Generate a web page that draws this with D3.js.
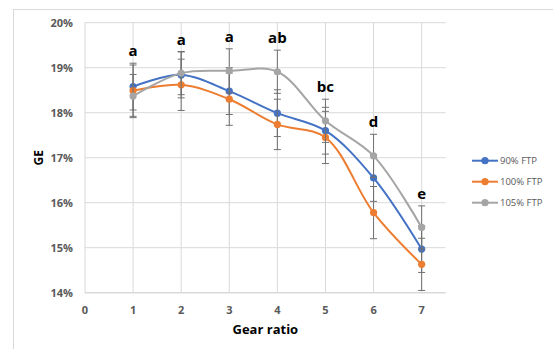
<!DOCTYPE html>
<html>
<head>
<meta charset="utf-8">
<script src="https://cdn.jsdelivr.net/npm/d3@7"></script>
<style>
  body { margin: 0; background: #fff; }
  text { font-family: "Open Sans", "Liberation Sans", sans-serif; }
</style>
</head>
<body>
<script>
var width = 553;
var height = 349;

// data
var gears = [1, 2, 3, 4, 5, 6, 7];
var seriesNames = ["90% FTP", "100% FTP", "105% FTP"];
var ftp90 = [18.58, 18.84, 18.48, 17.99, 17.60, 16.55, 14.97];
var ftp100 = [18.49, 18.62, 18.30, 17.74, 17.45, 15.78, 14.63];
var ftp105 = [18.37, 18.88, 18.93, 18.91, 17.82, 17.04, 15.45];
var err90 = [0.52, 0.51, 0.52, 0.52, 0.52, 0.52, 0.52];
var err100 = [0.57, 0.57, 0.58, 0.56, 0.58, 0.58, 0.58];
var err105 = [0.48, 0.48, 0.49, 0.48, 0.48, 0.48, 0.48];
var letters = ["a", "a", "a", "ab", "bc", "d", "e"];
var xTicks = [0, 1, 2, 3, 4, 5, 6, 7];
var yTicks = [14, 15, 16, 17, 18, 19, 20];

var colors = ["#4472C4", "#ED7D31", "#A5A5A5"];
var values = [ftp90, ftp100, ftp105];
var errors = [err90, err100, err105];

var svg = d3.select("body").append("svg")
  .attr("width", width)
  .attr("height", height);

// outer chart frame
svg.append("rect")
  .attr("x", 13.5).attr("y", 9.5)
  .attr("width", 560).attr("height", 360)
  .attr("fill", "none")
  .attr("stroke", "#d9d9d9");

var x = d3.scaleLinear().domain([0, 7.5]).range([85, 445.7]);
var y = d3.scaleLinear().domain([14, 20]).range([292.7, 22.7]);

// gridlines
svg.append("g").selectAll("line")
  .data(yTicks)
  .join("line")
  .attr("x1", x(0)).attr("x2", x(7.5))
  .attr("y1", d => y(d)).attr("y2", d => y(d))
  .attr("stroke", "#d9d9d9")
  .attr("stroke-width", d => d == 14 ? 1.5 : 1);

svg.append("g").selectAll("line")
  .data(xTicks)
  .join("line")
  .attr("x1", d => x(d)).attr("x2", d => x(d))
  .attr("y1", y(20)).attr("y2", y(14))
  .attr("stroke", "#d9d9d9");

// tick labels
svg.append("g").selectAll("text")
  .data(yTicks)
  .join("text")
  .attr("x", 73)
  .attr("y", d => y(d))
  .attr("dy", "0.35em")
  .attr("text-anchor", "end")
  .attr("font-size", 11)
  .attr("font-weight", "bold")
  .attr("fill", "#595959")
  .text(d => d + "%");

svg.append("g").selectAll("text")
  .data(xTicks)
  .join("text")
  .attr("x", d => x(d))
  .attr("y", 310)
  .attr("dy", "0.35em")
  .attr("text-anchor", "middle")
  .attr("font-size", 11)
  .attr("font-weight", "bold")
  .attr("fill", "#595959")
  .text(d => d);

// axis titles
svg.append("text")
  .attr("x", (x(0) + x(7.5)) / 2)
  .attr("y", 334)
  .attr("text-anchor", "middle")
  .attr("font-size", 13)
  .attr("font-weight", "bold")
  .attr("fill", "#000")
  .text("Gear ratio");

svg.append("text")
  .attr("transform", "translate(43," + (y(17) + 0) + ") rotate(-90)")
  .attr("text-anchor", "middle")
  .attr("font-size", 12)
  .attr("font-weight", "bold")
  .attr("fill", "#000")
  .text("GE");

var line = d3.line()
  .x((d, i) => x(gears[i]))
  .y(d => y(d))
  .curve(d3.curveCatmullRom.alpha(0.5));

values.forEach(function(vals, s) {
  var g = svg.append("g");
  // error bars
  vals.forEach(function(v, i) {
    var e = errors[s][i];
    var cx = x(gears[i]);
    g.append("line")
      .attr("x1", cx).attr("x2", cx)
      .attr("y1", y(v + e)).attr("y2", y(v - e))
      .attr("stroke", "#707070");
    [v + e, v - e].forEach(function(c) {
      g.append("line")
        .attr("x1", cx - 3.5).attr("x2", cx + 3.5)
        .attr("y1", y(c)).attr("y2", y(c))
        .attr("stroke", "#707070");
    });
  });
  g.append("path")
    .attr("d", line(vals))
    .attr("fill", "none")
    .attr("stroke", colors[s])
    .attr("stroke-width", 2);
  g.selectAll("circle")
    .data(vals)
    .join("circle")
    .attr("cx", (d, i) => x(gears[i]))
    .attr("cy", d => y(d))
    .attr("r", 3.6)
    .attr("fill", colors[s]);
});

// significance letters
svg.append("g").selectAll("text")
  .data(letters)
  .join("text")
  .attr("x", (d, i) => x(gears[i]))
  .attr("y", function(d, i) {
    var top = d3.max(values, (vals, s) => vals[i] + errors[s][i]);
    return y(top) - 7;
  })
  .attr("text-anchor", "middle")
  .attr("font-size", 15)
  .attr("font-weight", "bold")
  .attr("fill", "#000")
  .text(d => d);

// legend
var legend = svg.append("g").selectAll("g")
  .data(seriesNames)
  .join("g")
  .attr("transform", (d, i) => "translate(472," + (160.7 + i * 21) + ")");

legend.append("line")
  .attr("x1", 0).attr("x2", 26)
  .attr("stroke", (d, i) => colors[i])
  .attr("stroke-width", 2);
legend.append("circle")
  .attr("cx", 13).attr("r", 3.6)
  .attr("fill", (d, i) => colors[i]);
legend.append("text")
  .attr("x", 28)
  .attr("dy", "0.35em")
  .attr("font-size", 9.5)
  .attr("fill", "#595959")
  .text(d => d);
</script>
</body>
</html>
